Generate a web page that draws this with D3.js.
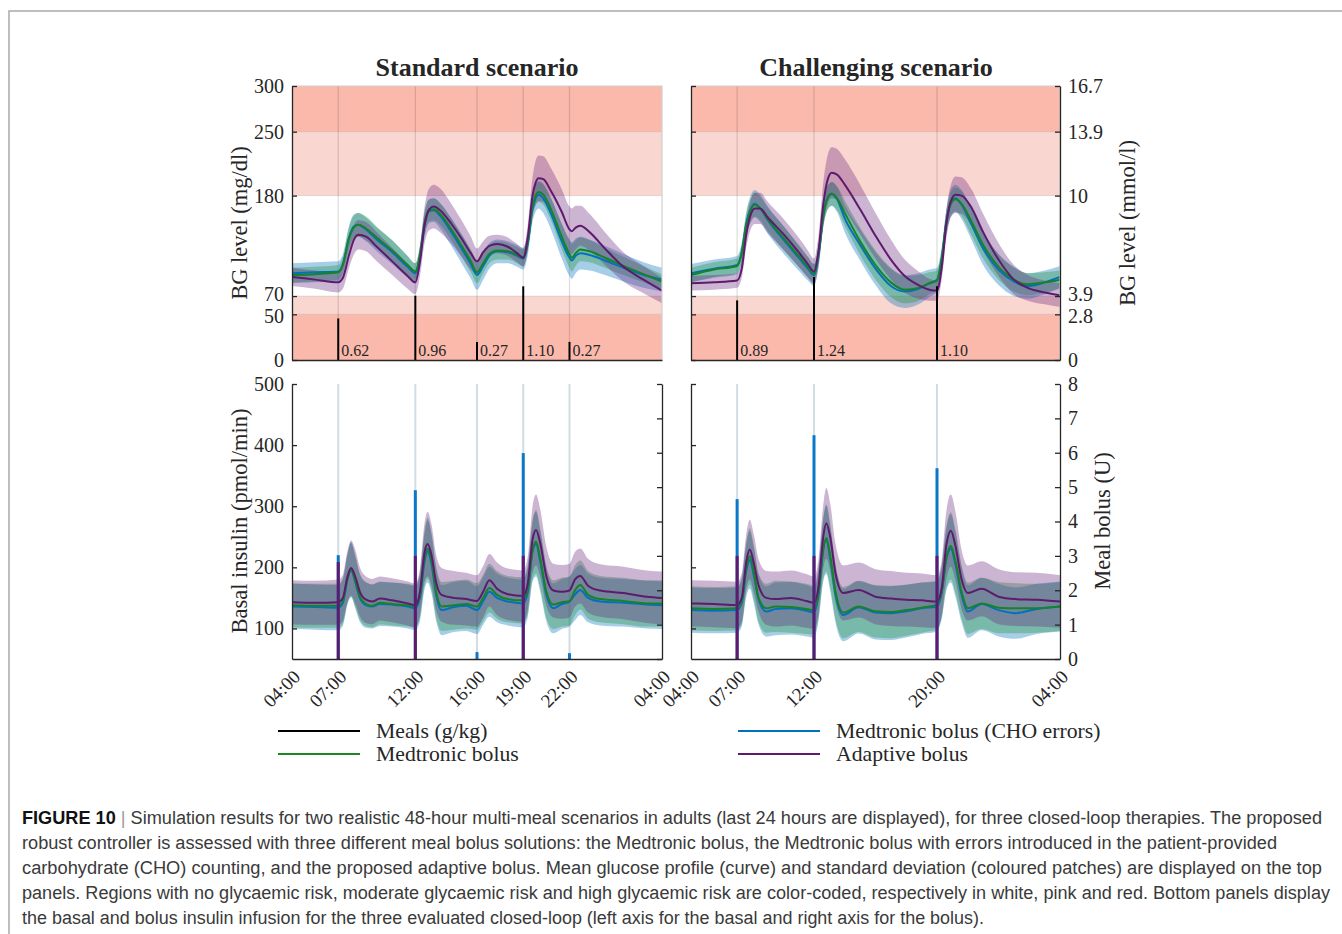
<!DOCTYPE html>
<html>
<head>
<meta charset="utf-8">
<script src="https://cdn.jsdelivr.net/npm/d3@7"></script>
<style>
  body { margin: 0; background: #fff; }
  svg text { font-family: "Liberation Serif", "Times New Roman", serif; fill: #262626; }
  .caption text { font-family: "Liberation Sans Narrow", "Liberation Sans", Arial, sans-serif; fill: #3a3a3a; }
</style>
</head>
<body>
<svg id="fig" width="1342" height="934"></svg>
<script>
// ---- data (hours after 04:00) ----
const stdTicks = [0, 3, 8, 12, 15, 18, 24]
const stdTickLabels = ['04:00', '07:00', '12:00', '16:00', '19:00', '22:00', '04:00']
const chTicks = [0, 3, 8, 16, 24]
const chTickLabels = ['04:00', '07:00', '12:00', '20:00', '04:00']

const bgTicks = [0, 50, 70, 180, 250, 300]
const bgMmolLabels = ['0', '2.8', '3.9', '10', '13.9', '16.7']
const zoneLimits = [0, 50, 70, 180, 250, 300]
const insTicks = [100, 200, 300, 400, 500]
const bolusTicks = [0, 1, 2, 3, 4, 5, 6, 7, 8]

const stdMealTimes = [3, 8, 12, 15, 18]
const stdMealSizes = [0.62, 0.96, 0.27, 1.10, 0.27]
const chMealTimes = [3, 8, 16]
const chMealSizes = [0.89, 1.24, 1.10]

const stdBolusBlue = [3.02, 4.91, 0.2, 5.99, 0.17]
const stdBolusPurple = [2.82, 3.0, 0, 3.0, 0]
const chBolusBlue = [4.65, 6.51, 5.55]
const chBolusPurple = [3.0, 3.0, 3.0]

// BG, standard scenario
const tBgStd = [0, 1.5, 3, 3.3, 3.7, 4.0, 4.3, 4.8, 5.5, 6.5, 7.5, 8, 8.3, 8.6, 8.9, 9.2, 9.6, 10.3, 11, 11.6, 12, 12.4, 12.8, 13.3, 14, 14.6, 15, 15.3, 15.6, 15.8, 16.0, 16.3, 16.8, 17.5, 18, 18.15, 18.4, 18.7, 19.3, 20.3, 21.5, 22.8, 24]
const bgStdGreen = [93, 94, 96, 104, 133, 145, 148, 144, 134, 120, 104, 97, 115, 150, 164, 165, 160, 144, 125, 108, 96, 106, 116, 120, 119, 115, 112, 130, 168, 180, 184, 181, 165, 135, 116, 112, 117, 121, 119, 112, 103, 94, 86]
const bgStdBlue = [95, 96, 97, 105, 134, 146, 148, 143, 132, 118, 102, 95, 113, 148, 163, 164, 158, 141, 122, 105, 93, 103, 114, 119, 118, 114, 111, 128, 165, 177, 181, 177, 160, 130, 112, 109, 114, 117, 115, 109, 101, 93, 88]
const bgStdPurple = [91, 88, 85, 90, 115, 131, 137, 135, 124, 108, 92, 85, 108, 148, 165, 168, 164, 150, 133, 117, 108, 118, 125, 127, 124, 117, 112, 135, 180, 194, 199, 198, 185, 162, 143, 141, 145, 147, 140, 122, 102, 88, 76]
const sdBgStdGreen = [8, 8, 8, 9, 12, 13, 13, 13, 12, 11, 10, 9, 10, 12, 12, 12, 12, 12, 12, 12, 12, 11, 10, 10, 9, 9, 9, 10, 12, 11, 11, 11, 12, 14, 15, 15, 14, 13, 12, 11, 10, 9, 8]
const sdBgStdBlue = [11, 11, 11, 11, 13, 13, 13, 13, 13, 13, 12, 11, 12, 13, 13, 13, 14, 15, 16, 16, 16, 15, 14, 13, 12, 12, 12, 13, 14, 15, 15, 16, 17, 19, 20, 20, 19, 18, 17, 16, 15, 14, 13]
const sdBgStdPurple = [10, 10, 11, 12, 14, 16, 16, 16, 16, 15, 14, 13, 16, 20, 23, 24, 24, 22, 20, 18, 14, 12, 11, 10, 10, 10, 10, 14, 20, 24, 25, 25, 25, 25, 25, 25, 24, 22, 20, 18, 16, 15, 14]

// BG, challenging scenario
const tBgCh = [0, 1.5, 3, 3.3, 3.6, 3.9, 4.15, 4.5, 5, 6, 7, 7.6, 8, 8.3, 8.6, 8.9, 9.15, 9.5, 10, 11, 12, 13, 13.9, 14.8, 15.5, 16, 16.3, 16.6, 16.9, 17.2, 17.6, 18.2, 19, 20, 21, 21.9, 23, 24]
const bgChGreen = [93, 99, 103, 117, 148, 165, 170, 166, 154, 134, 114, 102, 95, 117, 158, 178, 182, 177, 161, 130, 104, 85, 77, 79, 84, 87, 110, 150, 171, 176, 171, 153, 126, 102, 88, 83, 85, 88]
const bgChBlue = [95, 100, 104, 118, 150, 166, 171, 166, 153, 132, 112, 100, 93, 115, 158, 178, 182, 176, 155, 126, 100, 81, 75, 78, 84, 88, 110, 150, 172, 177, 170, 150, 122, 99, 86, 81, 85, 91]
const bgChPurple = [84, 85, 87, 100, 138, 160, 166, 166, 156, 138, 118, 105, 97, 120, 170, 198, 205, 203, 192, 165, 136, 110, 92, 82, 77, 76, 100, 148, 174, 181, 180, 168, 140, 110, 88, 79, 74, 71]
const sdBgChGreen = [8, 8, 8, 9, 12, 13, 13, 13, 13, 13, 12, 11, 10, 10, 12, 13, 13, 13, 14, 15, 16, 16, 15, 14, 12, 11, 11, 12, 13, 13, 14, 15, 15, 14, 13, 12, 11, 10]
const sdBgChBlue = [10, 10, 10, 11, 13, 15, 15, 15, 15, 15, 14, 13, 12, 12, 13, 13, 13, 14, 15, 17, 18, 19, 18, 17, 15, 13, 13, 14, 15, 15, 16, 17, 18, 17, 16, 14, 13, 12]
const sdBgChPurple = [8, 8, 8, 10, 14, 16, 17, 17, 17, 17, 16, 15, 14, 18, 24, 27, 28, 28, 28, 27, 25, 22, 18, 15, 12, 11, 13, 16, 18, 20, 20, 20, 20, 18, 16, 14, 13, 13]

// basal insulin, standard scenario
const tInsStd = [0, 1.5, 3, 3.3, 3.6, 3.83, 4.1, 4.4, 4.8, 5.2, 5.7, 6.5, 7.5, 8, 8.3, 8.6, 8.8, 9.05, 9.35, 9.7, 10.5, 11.3, 12, 12.4, 12.8, 13.3, 14, 15, 15.3, 15.6, 15.83, 16.1, 16.5, 16.95, 17.5, 18, 18.35, 18.7, 19.2, 20, 21.5, 23, 24]
const insStdGreen = [138, 137, 137, 145, 182, 196, 178, 152, 140, 137, 142, 140, 138, 136, 155, 215, 231, 210, 160, 136, 138, 140, 136, 150, 166, 155, 148, 146, 165, 228, 242, 215, 160, 139, 143, 145, 162, 171, 155, 148, 145, 141, 141]
const insStdBlue = [136, 135, 134, 142, 180, 196, 176, 150, 138, 136, 140, 139, 136, 133, 150, 210, 226, 205, 155, 130, 135, 137, 130, 145, 160, 150, 144, 141, 160, 225, 238, 210, 155, 133, 140, 144, 155, 163, 150, 144, 142, 139, 138]
const insStdPurple = [143, 142, 143, 150, 185, 199, 185, 160, 147, 144, 149, 146, 141, 138, 160, 225, 238, 220, 175, 155, 150, 148, 145, 160, 179, 165, 156, 153, 175, 245, 261, 240, 185, 162, 160, 162, 180, 186, 170, 162, 158, 152, 150]
const sdInsStdGreen = [36, 36, 36, 37, 40, 44, 42, 38, 36, 35, 35, 35, 35, 35, 37, 45, 50, 47, 42, 40, 40, 40, 38, 38, 40, 39, 38, 38, 40, 48, 52, 49, 43, 40, 40, 40, 41, 40, 39, 38, 38, 38, 38]
const sdInsStdBlue = [37, 37, 37, 38, 41, 45, 43, 39, 37, 36, 36, 36, 36, 36, 38, 46, 51, 48, 43, 41, 41, 41, 39, 39, 41, 40, 39, 39, 41, 49, 53, 50, 44, 41, 41, 41, 42, 41, 40, 39, 39, 39, 39]
const sdInsStdPurple = [36, 36, 37, 38, 42, 45, 44, 40, 38, 37, 36, 36, 36, 36, 38, 48, 53, 50, 45, 44, 44, 43, 42, 42, 43, 43, 42, 42, 44, 54, 58, 55, 48, 44, 44, 44, 45, 45, 44, 43, 43, 43, 43]

// basal insulin, challenging scenario
const tInsCh = [0, 1.5, 3, 3.3, 3.6, 3.82, 4.1, 4.4, 4.9, 5.5, 6.5, 7.5, 8, 8.3, 8.6, 8.8, 9.05, 9.4, 9.9, 10.9, 12, 13, 14, 15, 16, 16.3, 16.6, 16.9, 17.2, 17.6, 18.0, 18.9, 20, 21.1, 22.5, 24]
const insChGreen = [133, 132, 133, 145, 200, 218, 190, 150, 133, 136, 135, 132, 130, 160, 230, 248, 220, 160, 126, 136, 128, 127, 130, 134, 138.5, 160, 215, 235, 210, 160, 133, 141, 134, 133, 133, 136]
const insChBlue = [130, 129, 130, 142, 195, 212, 185, 147, 127.6, 132, 133, 129, 126, 156, 228, 245, 215, 155, 122, 134.7, 126, 125, 128, 133, 136, 158, 212, 231, 205, 155, 127.6, 140, 130, 125, 132, 136]
const insChPurple = [141, 140, 138.5, 150, 210, 229, 205, 170, 150, 148, 150, 145, 142, 170, 250, 272, 250, 190, 158, 163, 152, 149, 147, 146, 144, 165, 235, 260, 235, 180, 158, 165, 152, 148, 147, 144]
const sdInsChGreen = [36, 36, 36, 38, 42, 46, 44, 40, 40, 42, 42, 41, 40, 42, 50, 55, 52, 45, 42, 42, 43, 43, 42, 41, 40, 42, 50, 55, 52, 44, 42, 42, 42, 41, 40, 40]
const sdInsChBlue = [37, 37, 37, 39, 43, 47, 45, 41, 41, 43, 43, 42, 41, 43, 51, 56, 53, 46, 43, 43, 44, 44, 43, 42, 41, 43, 51, 56, 53, 45, 43, 43, 43, 42, 41, 41]
const sdInsChPurple = [38, 38, 38, 40, 45, 49, 47, 43, 44, 45, 45, 44, 43, 45, 52, 58, 55, 48, 45, 45, 45, 45, 44, 44, 43, 45, 55, 59, 56, 48, 45, 45, 45, 44, 44, 43]

const legendLabels = ['Meals (g/kg)', 'Medtronic bolus', 'Medtronic bolus (CHO errors)', 'Adaptive bolus']

const captionLines = [
    'Simulation results for two realistic 48-hour multi-meal scenarios in adults (last 24 hours are displayed), for three closed-loop therapies. The proposed',
    'robust controller is assessed with three different meal bolus solutions: the Medtronic bolus, the Medtronic bolus with errors introduced in the patient-provided',
    'carbohydrate (CHO) counting, and the proposed adaptive bolus. Mean glucose profile (curve) and standard deviation (coloured patches) are displayed on the top',
    'panels. Regions with no glycaemic risk, moderate glycaemic risk and high glycaemic risk are color-coded, respectively in white, pink and red. Bottom panels display',
    'the basal and bolus insulin infusion for the three evaluated closed-loop (left axis for the basal and right axis for the bolus).'
]

// ---- styles ----
const lineColor = { green: '#17822a', blue: '#0072bd', purple: '#5e1a6c' }
const bandColor = { green: '#229236', blue: '#0072bd', purple: '#6e2880' }
const zoneFill = ['#fbb9ac', '#fad6d0', '#ffffff', '#fad6d0', '#fbb9ac']
const axisColor = '#262626'
// small vertical nudges so the close 50/70 labels do not collide
const bgLabelNudge = [0, 2, -2, 0, 0, 0]

const svg = d3.select('#fig')

// frame
svg.append('path').attr('d', 'M9,934 V11 H1342').attr('fill', 'none').attr('stroke', '#a9a9a9').attr('stroke-width', 1.5)

const xStd = d3.scaleLinear().domain([0, 24]).range([292, 662])
const xCh = d3.scaleLinear().domain([0, 24]).range([691, 1060])
const yBG = d3.scaleLinear().domain([0, 300]).range([360, 86])
const yMeal = d3.scaleLinear().domain([0, 4.09]).range([360, 86])
const yIns = d3.scaleLinear().domain([50, 500]).range([659, 384])
const yBolus = d3.scaleLinear().domain([0, 8]).range([659, 384])

function styleAxis(g, size) {
    g.selectAll('path, line').attr('stroke', axisColor).attr('stroke-width', 1.3)
    g.selectAll('text').attr('font-size', size || 20).attr('fill', axisColor)
        .attr('font-family', '"Liberation Serif", serif')
}

function drawBands(g, x, y, t, series) {
    series.forEach(s => {
        const pts = t.map((tt, i) => ({ t: tt, m: s.mean[i], sd: s.sd[i] }))
        g.append('path')
            .datum(pts)
            .attr('fill', bandColor[s.key])
            .attr('fill-opacity', 0.35)
            .attr('d', d3.area().curve(d3.curveMonotoneX)
                .x(d => x(d.t)).y0(d => y(d.m - d.sd)).y1(d => y(d.m + d.sd)))
    })
    series.forEach(s => {
        g.append('path')
            .datum(t.map((tt, i) => ({ t: tt, m: s.mean[i] })))
            .attr('fill', 'none')
            .attr('stroke', lineColor[s.key])
            .attr('stroke-width', 2)
            .attr('d', d3.line().curve(d3.curveMonotoneX).x(d => x(d.t)).y(d => y(d.m)))
    })
}

function drawTop(id, x, t, series, mealTimes, mealSizes, side) {
    const [x0, x1] = x.range()
    svg.append('clipPath').attr('id', id).append('rect')
        .attr('x', x0).attr('y', 86).attr('width', x1 - x0).attr('height', 274)
    const g = svg.append('g').attr('clip-path', `url(#${id})`)

    // risk zones
    g.selectAll('.zone')
        .data(d3.range(zoneLimits.length - 1))
        .enter()
        .append('rect')
        .attr('x', x0).attr('width', x1 - x0)
        .attr('y', i => yBG(zoneLimits[i + 1]))
        .attr('height', i => yBG(zoneLimits[i]) - yBG(zoneLimits[i + 1]))
        .attr('fill', i => zoneFill[i])

    // grid
    g.selectAll('.hgrid')
        .data(bgTicks.slice(1, -1))
        .enter()
        .append('line')
        .attr('x1', x0).attr('x2', x1)
        .attr('y1', d => yBG(d)).attr('y2', d => yBG(d))
        .attr('stroke', '#000').attr('stroke-opacity', 0.1)
    g.selectAll('.vgrid')
        .data(mealTimes)
        .enter()
        .append('line')
        .attr('x1', d => x(d)).attr('x2', d => x(d))
        .attr('y1', 86).attr('y2', 360)
        .attr('stroke', '#000').attr('stroke-opacity', 0.13).attr('stroke-width', 1.3)

    drawBands(g, x, yBG, t, series)

    // meals
    g.selectAll('.meal')
        .data(mealTimes)
        .enter()
        .append('line')
        .attr('x1', d => x(d)).attr('x2', d => x(d))
        .attr('y1', yMeal(0)).attr('y2', (d, i) => yMeal(mealSizes[i]))
        .attr('stroke', '#000').attr('stroke-width', 2)
    g.selectAll('.mealLabel')
        .data(mealTimes)
        .enter()
        .append('text')
        .text((d, i) => mealSizes[i].toFixed(2))
        .attr('x', d => x(d) + 3)
        .attr('y', 356)
        .attr('font-size', 16)
        .attr('fill', '#111')

    // box
    svg.append('path').attr('d', `M${x0},86 H${x1} V360`).attr('fill', 'none').attr('stroke', '#cfcfcf').attr('stroke-width', 1.2)

    const left = svg.append('g').attr('transform', `translate(${x0},0)`)
        .call(d3.axisLeft(yBG).tickValues(bgTicks).tickSizeInner(-5).tickSizeOuter(0).tickPadding(8)
            .tickFormat(side === 'left' ? d3.format('d') : ''))
    styleAxis(left)
    left.selectAll('text').attr('y', (d, i) => bgLabelNudge[i])
    const bottom = svg.append('g').attr('transform', 'translate(0,360)')
        .call(d3.axisBottom(x).tickValues([]).tickSizeOuter(0))
    styleAxis(bottom)
    if (side === 'right') {
        const right = svg.append('g').attr('transform', `translate(${x1},0)`)
            .call(d3.axisRight(yBG).tickValues(bgTicks).tickSizeInner(-5).tickSizeOuter(0).tickPadding(8)
                .tickFormat((d, i) => bgMmolLabels[i]))
        styleAxis(right)
        right.selectAll('text').attr('y', (d, i) => bgLabelNudge[i])
    }
}

function drawBottom(id, x, t, series, mealTimes, bolusBlue, bolusPurple, ticks, tickLabels, side) {
    const [x0, x1] = x.range()
    svg.append('clipPath').attr('id', id).append('rect')
        .attr('x', x0).attr('y', 384).attr('width', x1 - x0).attr('height', 275)
    const g = svg.append('g').attr('clip-path', `url(#${id})`)

    g.selectAll('.vgrid')
        .data(mealTimes)
        .enter()
        .append('line')
        .attr('x1', d => x(d)).attr('x2', d => x(d))
        .attr('y1', 384).attr('y2', 659)
        .attr('stroke', '#d2dde2').attr('stroke-width', 2)

    drawBands(g, x, yIns, t, series)

    g.selectAll('.bolusBlue')
        .data(mealTimes)
        .enter()
        .append('rect')
        .attr('x', d => x(d) - 1.5).attr('width', 3)
        .attr('y', (d, i) => yBolus(bolusBlue[i]))
        .attr('height', (d, i) => yBolus(0) - yBolus(bolusBlue[i]))
        .attr('fill', '#0a78c8')
    g.selectAll('.bolusPurple')
        .data(mealTimes)
        .enter()
        .append('rect')
        .attr('x', d => x(d) - 1.5).attr('width', 3)
        .attr('y', (d, i) => yBolus(bolusPurple[i]))
        .attr('height', (d, i) => yBolus(0) - yBolus(bolusPurple[i]))
        .attr('fill', lineColor.purple)

    const left = svg.append('g').attr('transform', `translate(${x0},0)`)
        .call(d3.axisLeft(yIns).tickValues(insTicks).tickSizeInner(-5).tickSizeOuter(0).tickPadding(8)
            .tickFormat(side === 'left' ? d3.format('d') : ''))
    styleAxis(left)
    const right = svg.append('g').attr('transform', `translate(${x1},0)`)
        .call(d3.axisRight(yBolus).tickValues(bolusTicks).tickSizeInner(-5).tickSizeOuter(0).tickPadding(8)
            .tickFormat(side === 'right' ? d3.format('d') : ''))
    styleAxis(right)

    const bottom = svg.append('g').attr('transform', 'translate(0,659)')
        .call(d3.axisBottom(x).tickValues(ticks).tickSizeInner(0).tickSizeOuter(0)
            .tickFormat((d, i) => tickLabels[i]))
    styleAxis(bottom, 19)
    bottom.selectAll('text')
        .attr('x', 0).attr('y', 0).attr('dy', 0)
        .attr('text-anchor', 'end')
        .attr('transform', 'translate(9,19) rotate(-45)')
}

drawTop('clipTL', xStd, tBgStd, [
    { key: 'blue', mean: bgStdBlue, sd: sdBgStdBlue },
    { key: 'green', mean: bgStdGreen, sd: sdBgStdGreen },
    { key: 'purple', mean: bgStdPurple, sd: sdBgStdPurple }
], stdMealTimes, stdMealSizes, 'left')

drawTop('clipTR', xCh, tBgCh, [
    { key: 'blue', mean: bgChBlue, sd: sdBgChBlue },
    { key: 'green', mean: bgChGreen, sd: sdBgChGreen },
    { key: 'purple', mean: bgChPurple, sd: sdBgChPurple }
], chMealTimes, chMealSizes, 'right')

drawBottom('clipBL', xStd, tInsStd, [
    { key: 'blue', mean: insStdBlue, sd: sdInsStdBlue },
    { key: 'green', mean: insStdGreen, sd: sdInsStdGreen },
    { key: 'purple', mean: insStdPurple, sd: sdInsStdPurple }
], stdMealTimes, stdBolusBlue, stdBolusPurple, stdTicks, stdTickLabels, 'left')

drawBottom('clipBR', xCh, tInsCh, [
    { key: 'blue', mean: insChBlue, sd: sdInsChBlue },
    { key: 'green', mean: insChGreen, sd: sdInsChGreen },
    { key: 'purple', mean: insChPurple, sd: sdInsChPurple }
], chMealTimes, chBolusBlue, chBolusPurple, chTicks, chTickLabels, 'right')

// titles
svg.append('text').text('Standard scenario').attr('x', 477).attr('y', 76)
    .attr('text-anchor', 'middle').attr('font-size', 26).attr('font-weight', 'bold').attr('fill', '#000')
svg.append('text').text('Challenging scenario').attr('x', 876).attr('y', 76)
    .attr('text-anchor', 'middle').attr('font-size', 26).attr('font-weight', 'bold').attr('fill', '#000')

// axis titles
const axisTitles = [
    { text: 'BG level (mg/dl)', x: 247, y: 223 },
    { text: 'Basal insulin (pmol/min)', x: 247, y: 521 },
    { text: 'BG level (mmol/l)', x: 1135, y: 223 },
    { text: 'Meal bolus (U)', x: 1110, y: 521 }
]
svg.selectAll('.axisTitle')
    .data(axisTitles)
    .enter()
    .append('text')
    .text(d => d.text)
    .attr('text-anchor', 'middle')
    .attr('font-size', 22.5)
    .attr('transform', d => `translate(${d.x},${d.y}) rotate(-90)`)

// legend
const legendItems = [
    { label: legendLabels[0], color: '#000', x: 278, y: 731 },
    { label: legendLabels[1], color: '#18891f', x: 278, y: 754 },
    { label: legendLabels[2], color: '#0072bd', x: 738, y: 731 },
    { label: legendLabels[3], color: '#5e1a6c', x: 738, y: 754 }
]
const legend = svg.selectAll('.legend')
    .data(legendItems)
    .enter()
    .append('g')
    .attr('transform', d => `translate(${d.x},${d.y})`)
legend.append('line').attr('x1', 0).attr('x2', 82).attr('stroke', d => d.color).attr('stroke-width', 2)
legend.append('text').text(d => d.label).attr('x', 98).attr('y', 7).attr('font-size', 21.7).attr('fill', '#111')

// caption
const captionWidths = [1300, 1255, 1300, 1308, 962]
const caption = svg.append('g').classed('caption', true)
captionLines.forEach((line, i) => {
    const txt = caption.append('text')
        .attr('x', 22).attr('y', 824 + i * 25)
        .attr('font-size', 18)
        .attr('textLength', captionWidths[i])
        .attr('lengthAdjust', 'spacingAndGlyphs')
    if (i === 0) {
        txt.append('tspan').text('FIGURE 10').attr('font-weight', 'bold').style('fill', '#111')
        txt.append('tspan').text(' | ').style('fill', '#999')
    }
    txt.append('tspan').text(line)
})
</script>
</body>
</html>
